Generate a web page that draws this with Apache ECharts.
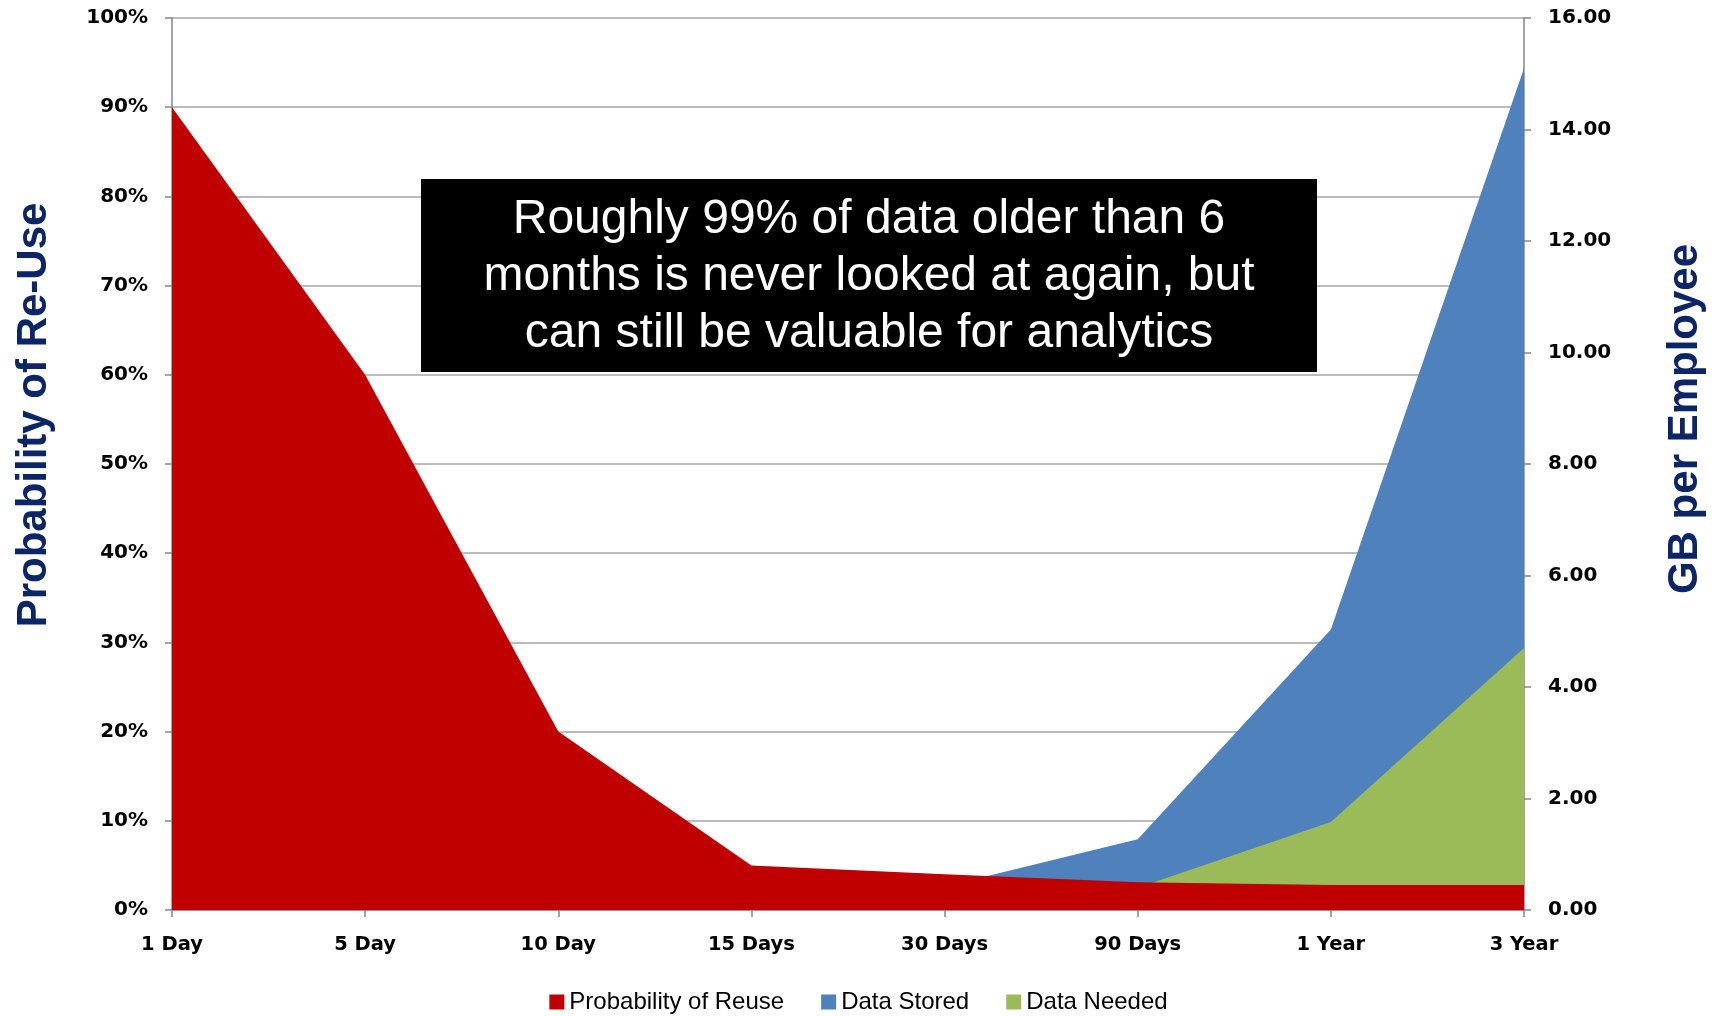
<!DOCTYPE html>
<html>
<head>
<meta charset="utf-8">
<title>Probability of Re-Use vs GB per Employee</title>
<script src="https://cdn.jsdelivr.net/npm/echarts@6/dist/echarts.min.js"></script>
<style>
  html, body { margin: 0; padding: 0; background: #fff; }
  #main { width: 1717px; height: 1016px; }
</style>
</head>
<body>
<div id="main"></div>
<script type="text/javascript">
    // data
    var categories = ['1 Day', '5 Day', '10 Day', '15 Days', '30 Days', '90 Days', '1 Year', '3 Year'];
    var reuseProb = [90, 60, 20, 5, 4, 3.1, 2.8, 2.8];            // % (left axis)
    var dataStored = [0.1, 0.15, 0.2, 0.3, 0.42, 1.27, 5.03, 15.1]; // GB (right axis)
    var dataNeeded = [0.05, 0.1, 0.15, 0.2, 0.25, 0.4, 1.58, 4.7];  // GB (right axis)
    var leftTicks = { min: 0, max: 100, interval: 10 };
    var rightTicks = { min: 0, max: 16, interval: 2 };

    var labelFont = {
        fontFamily: 'DejaVu Sans',
        fontWeight: 'bold',
        fontSize: 20,
        color: '#000'
    };
    var axisGray = '#868686';

    var myChart = echarts.init(document.getElementById('main'));

    myChart.setOption({
        animation: false,
        grid: {
            left: 172,
            right: 193,
            top: 18,
            bottom: 106
        },
        legend: {
            data: ['Probability of Reuse', 'Data Stored', 'Data Needed'],
            left: 'center',
            top: 985,
            icon: 'rect',
            itemWidth: 15,
            itemHeight: 15,
            itemGap: 37,
            textStyle: {
                fontFamily: 'Liberation Sans',
                fontSize: 24,
                color: '#000'
            }
        },
        xAxis: {
            type: 'category',
            data: categories,
            boundaryGap: false,
            axisLine: { lineStyle: { color: axisGray, width: 1.5 } },
            axisTick: { show: true, length: 7, lineStyle: { color: axisGray, width: 1.5 } },
            axisLabel: Object.assign({}, labelFont, { margin: 25, fontSize: 19.5 }),
            splitLine: { show: false }
        },
        yAxis: [{
            type: 'value',
            position: 'left',
            min: leftTicks.min,
            max: leftTicks.max,
            interval: leftTicks.interval,
            axisLine: { show: true, lineStyle: { color: axisGray, width: 1.5 } },
            axisTick: { show: true, length: 7, lineStyle: { color: axisGray, width: 1.5 } },
            axisLabel: Object.assign({ margin: 24, formatter: '{value}%' }, labelFont),
            splitLine: { show: true, lineStyle: { color: '#A6A6A6', width: 1.5 } }
        }, {
            type: 'value',
            position: 'right',
            min: rightTicks.min,
            max: rightTicks.max,
            interval: rightTicks.interval,
            axisLine: { show: true, lineStyle: { color: axisGray, width: 1.5 } },
            axisTick: { show: true, length: 7, lineStyle: { color: axisGray, width: 1.5 } },
            axisLabel: Object.assign({
                margin: 24,
                formatter: function (v) { return v.toFixed(2); }
            }, labelFont),
            splitLine: { show: false }
        }],
        series: [{
            name: 'Data Stored',
            type: 'line',
            yAxisIndex: 1,
            data: dataStored,
            symbol: 'none',
            lineStyle: { width: 0 },
            itemStyle: { color: '#4F81BD' },
            areaStyle: { color: '#4F81BD', opacity: 1 }
        }, {
            name: 'Data Needed',
            type: 'line',
            yAxisIndex: 1,
            data: dataNeeded,
            symbol: 'none',
            lineStyle: { width: 0 },
            itemStyle: { color: '#9BBB59' },
            areaStyle: { color: '#9BBB59', opacity: 1 }
        }, {
            name: 'Probability of Reuse',
            type: 'line',
            yAxisIndex: 0,
            data: reuseProb,
            symbol: 'none',
            lineStyle: { width: 0 },
            itemStyle: { color: '#C00000' },
            areaStyle: { color: '#C00000', opacity: 1 }
        }],
        graphic: [{
            type: 'rect',
            left: 421,
            top: 179,
            z: 100,
            shape: { width: 896, height: 193 },
            style: { fill: '#000' }
        }, {
            type: 'text',
            x: 869,
            y: 277,
            z: 101,
            style: {
                text: 'Roughly 99% of data older than 6\nmonths is never looked at again, but\ncan still be valuable for analytics',
                fill: '#fff',
                font: '48px "Liberation Sans", Arial, sans-serif',
                lineHeight: 57,
                textAlign: 'center',
                textVerticalAlign: 'middle'
            }
        }, {
            type: 'text',
            x: 34,
            y: 415,
            rotation: Math.PI / 2,
            style: {
                text: 'Probability of Re-Use',
                fill: '#0C2566',
                font: 'bold 42px "Liberation Sans", Arial, sans-serif',
                textAlign: 'center',
                textVerticalAlign: 'middle'
            }
        }, {
            type: 'text',
            x: 1685,
            y: 419,
            rotation: Math.PI / 2,
            style: {
                text: 'GB per Employee',
                fill: '#0C2566',
                font: 'bold 42px "Liberation Sans", Arial, sans-serif',
                textAlign: 'center',
                textVerticalAlign: 'middle'
            }
        }]
    });
</script>
</body>
</html>
